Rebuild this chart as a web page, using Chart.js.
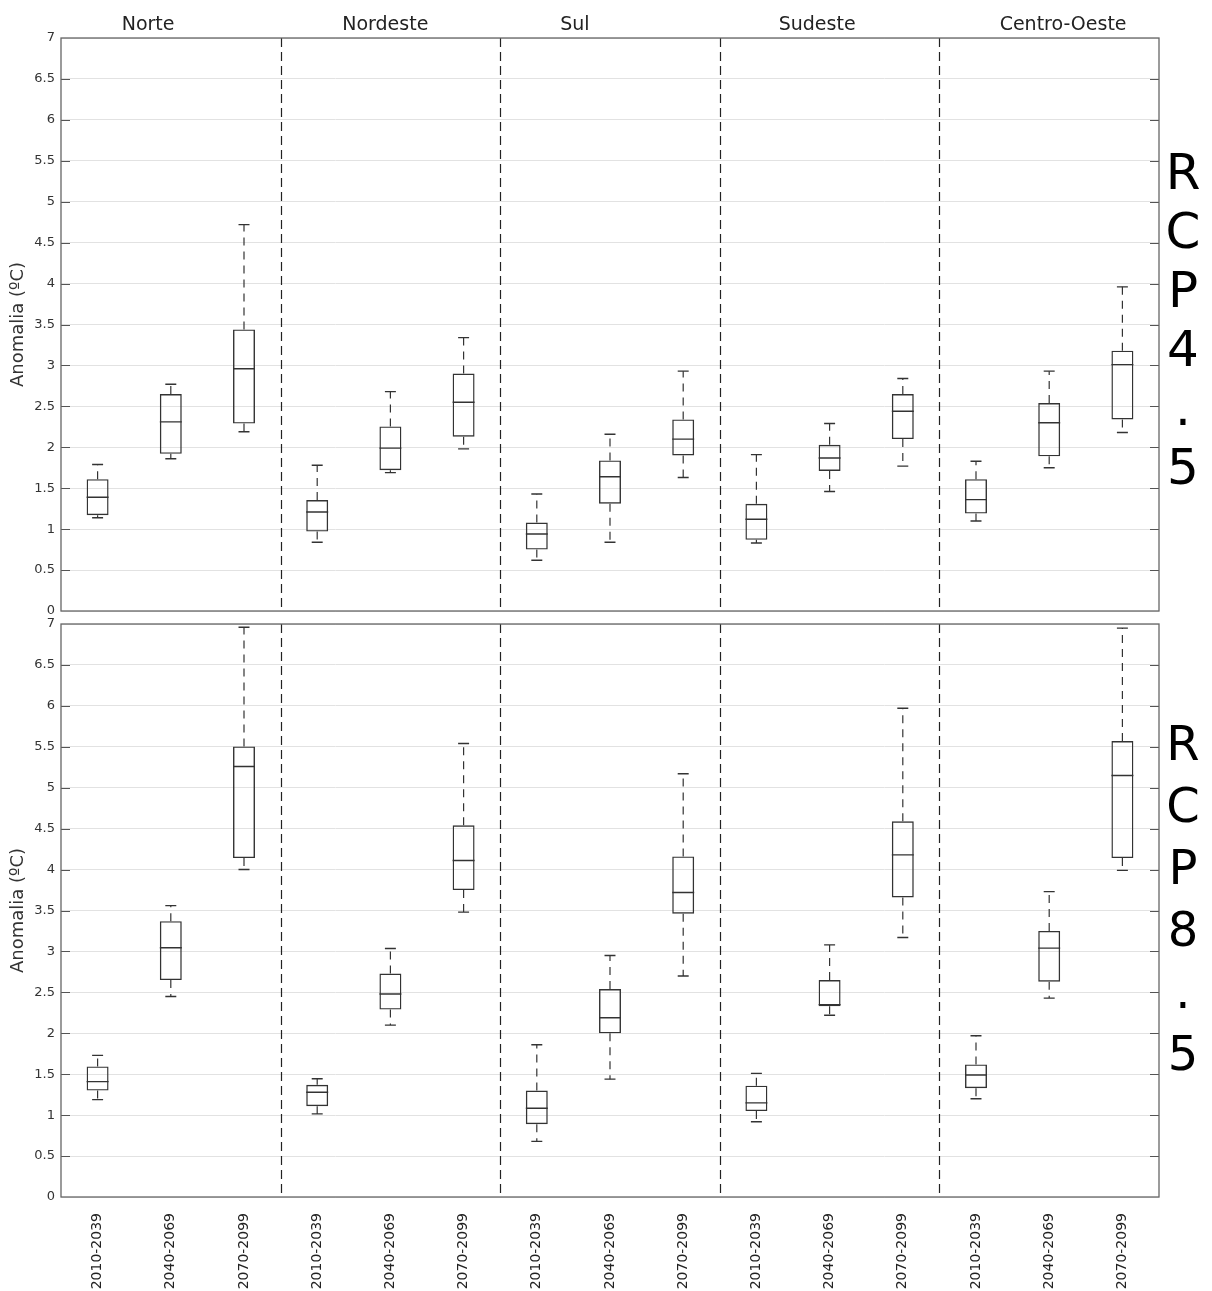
<!DOCTYPE html>
<html>
<head>
<meta charset="utf-8">
<script src="https://cdn.jsdelivr.net/npm/chart.js@4.4.0/dist/chart.umd.min.js"></script>
<style>
  body { margin: 0; background: #fff; width: 1212px; height: 1291px; position: relative; overflow: hidden; font-family: "DejaVu Sans", sans-serif; }
  canvas { position: absolute; left: 0; }
  #top { top: 0; }
  #bottom { top: 610px; }
  .rcp { position: absolute; left: 1158px; width: 50px; text-align: center; color: #000; }
</style>
</head>
<body>
<canvas id="top" width="1212" height="630"></canvas>
<canvas id="bottom" width="1212" height="681"></canvas>
<div class="rcp" style="top:143px;font-size:50px;line-height:59px">R<br>C<br>P<br>4<br>.<br>5</div>
<div class="rcp" style="top:712px;font-size:48px;line-height:62px">R<br>C<br>P<br>8<br>.<br>5</div>
<script>
'use strict'

const regions = ['Norte', 'Nordeste', 'Sul', 'Sudeste', 'Centro-Oeste'];
const periods = ['2010-2039', '2040-2069', '2070-2099'];

// 15 boxes per panel: 3 periods for each region, in region order
const rcp45Min    = [1.14, 1.86, 2.19, 0.84, 1.69, 1.98, 0.62, 0.84, 1.63, 0.83, 1.46, 1.77, 1.10, 1.75, 2.18];
const rcp45Q1     = [1.17, 1.92, 2.29, 0.97, 1.72, 2.13, 0.75, 1.31, 1.90, 0.87, 1.71, 2.10, 1.19, 1.89, 2.34];
const rcp45Median = [1.39, 2.31, 2.96, 1.21, 1.99, 2.55, 0.94, 1.64, 2.10, 1.12, 1.87, 2.44, 1.36, 2.30, 3.01];
const rcp45Q3     = [1.61, 2.65, 3.44, 1.355, 2.255, 2.90, 1.08, 1.84, 2.34, 1.31, 2.03, 2.65, 1.61, 2.54, 3.18];
const rcp45Max    = [1.79, 2.77, 4.72, 1.78, 2.68, 3.34, 1.43, 2.16, 2.93, 1.91, 2.29, 2.84, 1.83, 2.93, 3.96];

const rcp85Min    = [1.19, 2.45, 4.00, 1.015, 2.10, 3.48, 0.68, 1.44, 2.70, 0.92, 2.22, 3.17, 1.20, 2.43, 3.99];
const rcp85Q1     = [1.30, 2.65, 4.14, 1.11, 2.29, 3.75, 0.89, 2.00, 3.46, 1.05, 2.33, 3.66, 1.33, 2.63, 4.14];
const rcp85Median = [1.41, 3.045, 5.26, 1.28, 2.48, 4.11, 1.085, 2.19, 3.72, 1.15, 2.35, 4.18, 1.49, 3.04, 5.15];
const rcp85Q3     = [1.595, 3.37, 5.505, 1.37, 2.73, 4.54, 1.30, 2.54, 4.16, 1.36, 2.65, 4.59, 1.62, 3.25, 5.57];
const rcp85Max    = [1.73, 3.56, 6.96, 1.445, 3.035, 5.54, 1.86, 2.95, 5.17, 1.51, 3.08, 5.97, 1.97, 3.73, 6.95];

const labels = regions.flatMap(() => periods);

// region titles are not exactly centred over their groups in the original
const titleShift = [-0.31, -0.07, -0.48, -0.17, 0.19];

function makePanel(canvasId, min, q1, median, q3, max, isTop) {
    const panelPlugin = {
        id: 'panel_' + canvasId,
        beforeDatasetsDraw(chart) {
            const ctx = chart.ctx;
            const area = chart.chartArea;
            const x = chart.scales.x;
            const y = chart.scales.y;
            ctx.save();

            // inward tick marks on both sides
            ctx.strokeStyle = '#555';
            ctx.lineWidth = 1;
            y.ticks.forEach(t => {
                if (t.value <= 0 || t.value >= 7) return;
                const py = Math.round(y.getPixelForValue(t.value)) + 0.5;
                ctx.beginPath();
                ctx.moveTo(area.left, py);
                ctx.lineTo(area.left + 9, py);
                ctx.moveTo(area.right - 9, py);
                ctx.lineTo(area.right, py);
                ctx.stroke();
            });

            // dashed separators between regions
            ctx.strokeStyle = '#222';
            ctx.lineWidth = 1.2;
            ctx.setLineDash([9, 5]);
            for (let k = 1; k < regions.length; k++) {
                const px = Math.round((x.getPixelForValue(3 * k - 1) + x.getPixelForValue(3 * k)) / 2) + 0.5;
                ctx.beginPath();
                ctx.moveTo(px, area.top);
                ctx.lineTo(px, area.bottom);
                ctx.stroke();
            }
            ctx.setLineDash([]);

            // frame
            ctx.strokeStyle = '#666';
            ctx.lineWidth = 1.3;
            ctx.strokeRect(area.left, area.top, area.right - area.left, area.bottom - area.top);

            if (isTop) {
                ctx.fillStyle = '#222';
                ctx.font = '19px "DejaVu Sans", sans-serif';
                ctx.textAlign = 'center';
                ctx.textBaseline = 'alphabetic';
                regions.forEach((r, k) => {
                    ctx.fillText(r, x.getPixelForValue(3 * k + 1 + titleShift[k]), 30);
                });
            }
            ctx.restore();
        },
        afterDatasetsDraw(chart) {
            const ctx = chart.ctx;
            const y = chart.scales.y;
            const meta = chart.getDatasetMeta(0);
            ctx.save();
            ctx.strokeStyle = '#333';
            meta.data.forEach((bar, i) => {
                const half = bar.width / 2;
                const cap = bar.width / 4;
                const yMed = y.getPixelForValue(median[i]);
                const yQ1 = y.getPixelForValue(q1[i]);
                const yQ3 = y.getPixelForValue(q3[i]);
                const yMin = y.getPixelForValue(min[i]);
                const yMax = y.getPixelForValue(max[i]);

                ctx.lineWidth = 1.4;
                ctx.setLineDash([]);
                ctx.beginPath();
                ctx.moveTo(bar.x - half, yMed);
                ctx.lineTo(bar.x + half, yMed);
                ctx.moveTo(bar.x - cap, yMax);
                ctx.lineTo(bar.x + cap, yMax);
                ctx.moveTo(bar.x - cap, yMin);
                ctx.lineTo(bar.x + cap, yMin);
                ctx.stroke();

                ctx.lineWidth = 1.2;
                ctx.setLineDash([8, 6]);
                ctx.beginPath();
                ctx.moveTo(bar.x, yQ3);
                ctx.lineTo(bar.x, yMax);
                ctx.moveTo(bar.x, yQ1);
                ctx.lineTo(bar.x, yMin);
                ctx.stroke();
            });
            ctx.restore();
        }
    };

    new Chart(document.getElementById(canvasId), {
        type: 'bar',
        data: {
            labels: labels,
            datasets: [{
                data: q1.map((v, i) => [v, q3[i]]),
                backgroundColor: 'rgba(0,0,0,0)',
                borderColor: '#333',
                borderWidth: 1.4,
                borderSkipped: false,
                barPercentage: 0.3,
                categoryPercentage: 1
            }]
        },
        options: {
            responsive: false,
            animation: false,
            layout: {
                padding: isTop ? { top: 38, right: 53, bottom: 19, left: 0 } : { top: 14, right: 53, bottom: 0, left: 0 }
            },
            plugins: {
                legend: { display: false },
                tooltip: { enabled: false }
            },
            scales: {
                x: {
                    display: !isTop,
                    grid: { display: false },
                    border: { display: false },
                    ticks: {
                        autoSkip: false,
                        maxRotation: 90,
                        minRotation: 90,
                        padding: 8,
                        color: '#222',
                        font: { family: 'DejaVu Sans', size: 14 }
                    },
                    afterFit: scale => { scale.height = isTop ? 0 : 94; }
                },
                y: {
                    min: 0,
                    max: 7,
                    grid: { color: '#e2e2e2', lineWidth: 1, drawTicks: false },
                    border: { display: false },
                    ticks: {
                        stepSize: 0.5,
                        padding: 6,
                        color: '#333',
                        font: { family: 'DejaVu Sans', size: 13 },
                        callback: v => String(v)
                    },
                    title: {
                        display: true,
                        text: 'Anomalia (ºC)',
                        color: '#333',
                        padding: { top: 8, bottom: 0 },
                        font: { family: 'DejaVu Sans', size: 18 }
                    },
                    afterFit: scale => { scale.width = 61; }
                }
            }
        },
        plugins: [panelPlugin]
    });
}

makePanel('top', rcp45Min, rcp45Q1, rcp45Median, rcp45Q3, rcp45Max, true);
makePanel('bottom', rcp85Min, rcp85Q1, rcp85Median, rcp85Q3, rcp85Max, false);
</script>
</body>
</html>
